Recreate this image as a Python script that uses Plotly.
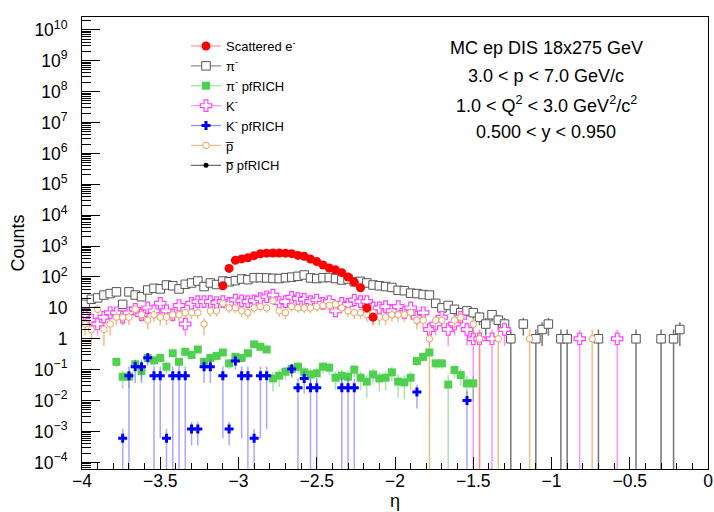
import numpy as np
import plotly.graph_objects as go

# ---------------- binning ----------------
N_BINS = 100
ETA_MIN, ETA_MAX = -4.0, 0.0
bin_width = (ETA_MAX - ETA_MIN) / N_BINS
eta_centers = ETA_MIN + bin_width * (np.arange(N_BINS) + 0.5)

# ---------------- data (counts per eta bin, bin 0 = [-4.00,-3.96]) ----------------
electron_first_bin = 22
electron_counts = [52, 190, 345, 385, 420, 490, 565, 590, 600, 595, 590, 570, 500,
                   465, 380, 315, 245, 195, 170, 138, 100, 68, 45, 10, 5]

pim_counts = [13, 19, 21, 26, 29, 33, 13, 33, 26, 23,
              38, 43, 41, 55, 52, 41, 58, 64, 74, 49,
              64, 57, 74, 70, 76, 86, 82, 95, 95, 93,
              90, 89, 95, 99, 105, 116, 93, 89, 95, 96,
              89, 80, 86, 70, 72, 64, 55, 52, 49, 46,
              37, 36, 30, 29, 27, 26, 14, 10, 12, 9,
              7, 8, 7, 5, 3, 6, 4, 3, 1, 0,
              3, 0, 1, 2, 3, 0, 1, 1, 0, 0,
              0, 0, 1, 0, 0, 0, 0, 0, 1, 0,
              0, 0, 1, 0, 1, 2]

km_counts = [6, 4, 3, 5, 7, 7, 5, 7, 9, 6,
             10, 8, 14, 8, 6, 12, 3, 14, 16, 16,
             16, 15, 16, 14, 18, 17, 16, 17, 20, 23,
             26, 15, 16, 22, 20, 19, 16, 18, 14, 16,
             8, 14, 13, 18, 16, 16, 10, 10, 11, 8,
             11, 7, 10, 5, 7, 2, 3, 5, 2, 3,
             5, 2, 1, 1, 0, 1, 0, 2, 0, 0,
             0, 0, 0, 0, 0, 0, 0, 0, 0, 1,
             0, 0, 0, 0, 0, 1]

pbar_counts = [3, 2, 9, 2, 3, 5, 5, 5, 9, 6,
               4, 6, 5, 5, 6, 6, 7, 7, 7, 3,
               8, 8, 14, 10, 10, 8, 7, 10, 11, 10,
               17, 8, 7, 11, 10, 10, 10, 11, 12, 12,
               13, 10, 8, 7, 7, 6, 7, 5, 5, 6,
               6, 6, 7, 4, 4, 1, 4, 4, 0, 4,
               5, 0, 3, 1, 0, 0, 1, 0, 0, 0,
               0, 1, 0, 0, 0, 0, 0, 0, 0, 0,
               0, 1]

pim_rich_values = [0, 0, 0, 0, 0, 0.18, 0.059, 0.06, 0.15, 0.09,
                   0.24, 0.20, 0.24, 0.125, 0.34, 0.18, 0.38, 0.30, 0.45, 0.18,
                   0.24, 0.28, 0.36, 0.16, 0.26, 0.24, 0.34, 0.66, 0.55, 0.45,
                   0.052, 0.064, 0.086, 0.105, 0.125, 0.082, 0.070, 0.076, 0.125, 0.116,
                   0.055, 0.064, 0.059, 0.10, 0.055, 0.041, 0.070, 0.052, 0.055, 0.082,
                   0.041, 0.039, 0.055, 0.19, 0.26, 0.36, 0.16, 0.16, 0.033, 0.097,
                   0.067, 0.036, 0.036]
pim_rich_weight = 0.02          # per-entry weight used for the error estimate
pim_rich_full_err_bins = [58]   # bins whose error reaches zero

km_rich_bins = [6, 7, 8, 9, 10, 11, 12, 13, 14, 15, 16, 17, 18, 19, 20, 22, 23, 24, 25, 26,
                27, 28, 29, 33, 34, 35, 36, 37, 41, 42, 43, 53, 61]
km_rich_values = [6e-4, 0.064, 0.125, 0.125, 0.245, 0.064, 0.064, 6e-4, 0.064, 0.064,
                  0.064, 1.2e-3, 1.2e-3, 0.125, 0.125, 0.064, 1.2e-3, 0.19, 0.064, 0.064,
                  6e-4, 0.064, 0.064, 0.105, 0.026, 0.052, 0.026, 0.026, 0.026, 0.026,
                  0.026, 0.019, 0.010]
km_rich_errors = [6e-4, 0.064, 0.088, 0.088, 0.11, 0.064, 0.0634, 6e-4, 0.064, 0.064,
                  0.064, 8.5e-4, 8.5e-4, 0.088, 0.088, 0.0634, 8.5e-4, 0.09, 0.0634, 0.064,
                  6e-4, 0.0634, 0.0628, 0.05, 0.026, 0.035, 0.026, 0.026, 0.026, 0.026,
                  0.026, 0.0135, 0.010]

legend_names = ["Scattered e<sup>-</sup>", "π<sup>-</sup>", "π<sup>-</sup> pfRICH",
                "K<sup>-</sup>", "K<sup>-</sup> pfRICH", "p\u0305", "p\u0305 pfRICH"]

info_lines = ["MC ep DIS 18x275 GeV",
              "3.0 &lt; p &lt; 7.0 GeV/c",
              "1.0 &lt; Q<sup>2</sup> &lt; 3.0 GeV<sup>2</sup>/c<sup>2</sup>",
              "0.500 &lt; y &lt; 0.950"]

y_tick_exponents = list(range(-4, 11))
Y_LOG_RANGE = [-4.214, 10.414]

# ---------------- layout geometry ----------------
W, H = 714, 512
M_L, M_R, M_T, M_B = 82, 6, 17, 43
PW, PH = W - M_L - M_R, H - M_T - M_B

# ---------------- styles ----------------
FONT = "Liberation Sans, Arial, Helvetica, sans-serif"
styles = {
    "e":      dict(marker=dict(symbol="circle", size=9, color="#ff0000"),
                   err="rgba(255,0,0,0.5)", line="rgba(255,80,80,0.6)"),
    "pim":    dict(marker=dict(symbol="square", size=8.5, color="white",
                               line=dict(color="#555555", width=1)),
                   err="rgba(70,70,70,0.75)", line="rgba(90,90,90,0.7)"),
    "pimR":   dict(marker=dict(symbol="square", size=8, color="#4fd04f"),
                   err="rgba(60,200,60,0.45)", line="rgba(80,210,80,0.6)"),
    "km":     dict(marker=dict(symbol="cross", size=9.5, color="white",
                               line=dict(color="#ff44ff", width=1.2)),
                   err="rgba(255,60,255,0.55)", line="rgba(255,100,255,0.7)"),
    "kmR":    dict(marker=dict(symbol="cross", size=7.5, color="#0000ff"),
                   err="rgba(40,40,255,0.4)", line="rgba(60,60,255,0.6)"),
    "pbar":   dict(marker=dict(symbol="circle", size=6.5, color="white",
                               line=dict(color="#f0a060", width=1)),
                   err="rgba(235,150,80,0.65)", line="rgba(240,170,110,0.8)"),
    "pbarR":  dict(marker=dict(symbol="circle", size=5, color="#000000"),
                   err="rgba(0,0,0,0.6)", line="rgba(40,40,40,0.7)"),
}


def nonzero_points(values, first_bin=0):
    xs, ys = [], []
    for k, v in enumerate(values):
        if v > 0:
            xs.append(float(eta_centers[first_bin + k]))
            ys.append(float(v))
    return xs, ys


def data_trace(xs, ys, errs, key):
    st = styles[key]
    return go.Scatter(
        x=xs, y=ys, mode="markers", showlegend=False, hoverinfo="skip",
        marker=st["marker"],
        error_y=dict(type="data", array=errs, visible=True, width=0,
                     thickness=1.5, color=st["err"]),
    )


fig = go.Figure()

# pi-
x, y = nonzero_points(pim_counts)
fig.add_trace(data_trace(x, y, [float(np.sqrt(v)) for v in y], "pim"))
# K-
x, y = nonzero_points(km_counts)
fig.add_trace(data_trace(x, y, [float(np.sqrt(v)) for v in y], "km"))
# pbar
x, y = nonzero_points(pbar_counts)
fig.add_trace(data_trace(x, y, [float(np.sqrt(v)) for v in y], "pbar"))
# pi- pfRICH
xg, yg, eg = [], [], []
for b, v in enumerate(pim_rich_values):
    if v > 0:
        xg.append(float(eta_centers[b]))
        yg.append(v)
        eg.append(v if b in pim_rich_full_err_bins else float(np.sqrt(v * pim_rich_weight)))
fig.add_trace(data_trace(xg, yg, eg, "pimR"))
# K- pfRICH
fig.add_trace(data_trace([float(eta_centers[b]) for b in km_rich_bins],
                         km_rich_values, km_rich_errors, "kmR"))
# scattered electron
x, y = nonzero_points(electron_counts, electron_first_bin)
fig.add_trace(data_trace(x, y, [float(np.sqrt(v)) for v in y], "e"))

# legend entries (line + marker, like ROOT "lep")
for name, key in zip(legend_names, ["e", "pim", "pimR", "km", "kmR", "pbar", "pbarR"]):
    st = styles[key]
    fig.add_trace(go.Scatter(x=[None], y=[None], mode="lines+markers", name=name,
                             marker=st["marker"], line=dict(color=st["line"], width=1.2),
                             hoverinfo="skip"))

# info text (pixel centres converted to paper coordinates)
info_x_px = 546
info_y_px = [48, 76, 104, 132]
annotations = []
for txt, yp in zip(info_lines, info_y_px):
    annotations.append(dict(text=txt, x=(info_x_px - M_L) / PW, y=(H - M_B - yp) / PH,
                            xref="paper", yref="paper",
                            xanchor="center", yanchor="middle", showarrow=False,
                            font=dict(family=FONT, size=18, color="black")))

minor_y = [k * 10.0 ** e for e in range(-5, 11) for k in range(2, 10)]

legend_left_px, legend_top_px = 186, 31

fig.update_layout(
    width=W, height=H,
    margin=dict(l=M_L, r=M_R, t=M_T, b=M_B, autoexpand=False),
    paper_bgcolor="white", plot_bgcolor="white",
    font=dict(family=FONT, size=17, color="black"),
    showlegend=True,
    legend=dict(x=(legend_left_px - M_L) / PW, y=(H - M_B - legend_top_px) / PH,
                xref="paper", yref="paper",
                xanchor="left", yanchor="top", bgcolor="rgba(255,255,255,0)",
                font=dict(family=FONT, size=13, color="black"), traceorder="normal",
                itemclick=False),
    annotations=annotations,
    xaxis=dict(range=[ETA_MIN, ETA_MAX], tick0=-4, dtick=0.5, ticks="inside", ticklen=12,
               tickcolor="black", showline=True, mirror=True, linecolor="black", linewidth=1,
               showgrid=False, zeroline=False,
               minor=dict(ticks="inside", ticklen=6, dtick=0.1, tickcolor="black", showgrid=False),
               tickfont=dict(size=17.5), ticklabelstandoff=-4,
               title=dict(text="η", font=dict(size=18), standoff=4)),
    yaxis=dict(type="log", range=Y_LOG_RANGE, tickmode="array",
               tickvals=[10.0 ** e for e in y_tick_exponents],
               ticktext=["1" if e == 0 else "10" if e == 1 else
                         f"10<sup>{'−' + str(-e) if e < 0 else e}</sup>"
                         for e in y_tick_exponents],
               ticks="inside", ticklen=18, tickcolor="black",
               showline=True, mirror=True, linecolor="black", linewidth=1,
               showgrid=False, zeroline=False,
               minor=dict(ticks="inside", ticklen=9, tickmode="array", tickvals=minor_y,
                          tickcolor="black", showgrid=False),
               tickfont=dict(size=17.5), ticklabelstandoff=10,
               title=dict(text="Counts", font=dict(size=18), standoff=4)),
)

fig.write_html("out.html")
